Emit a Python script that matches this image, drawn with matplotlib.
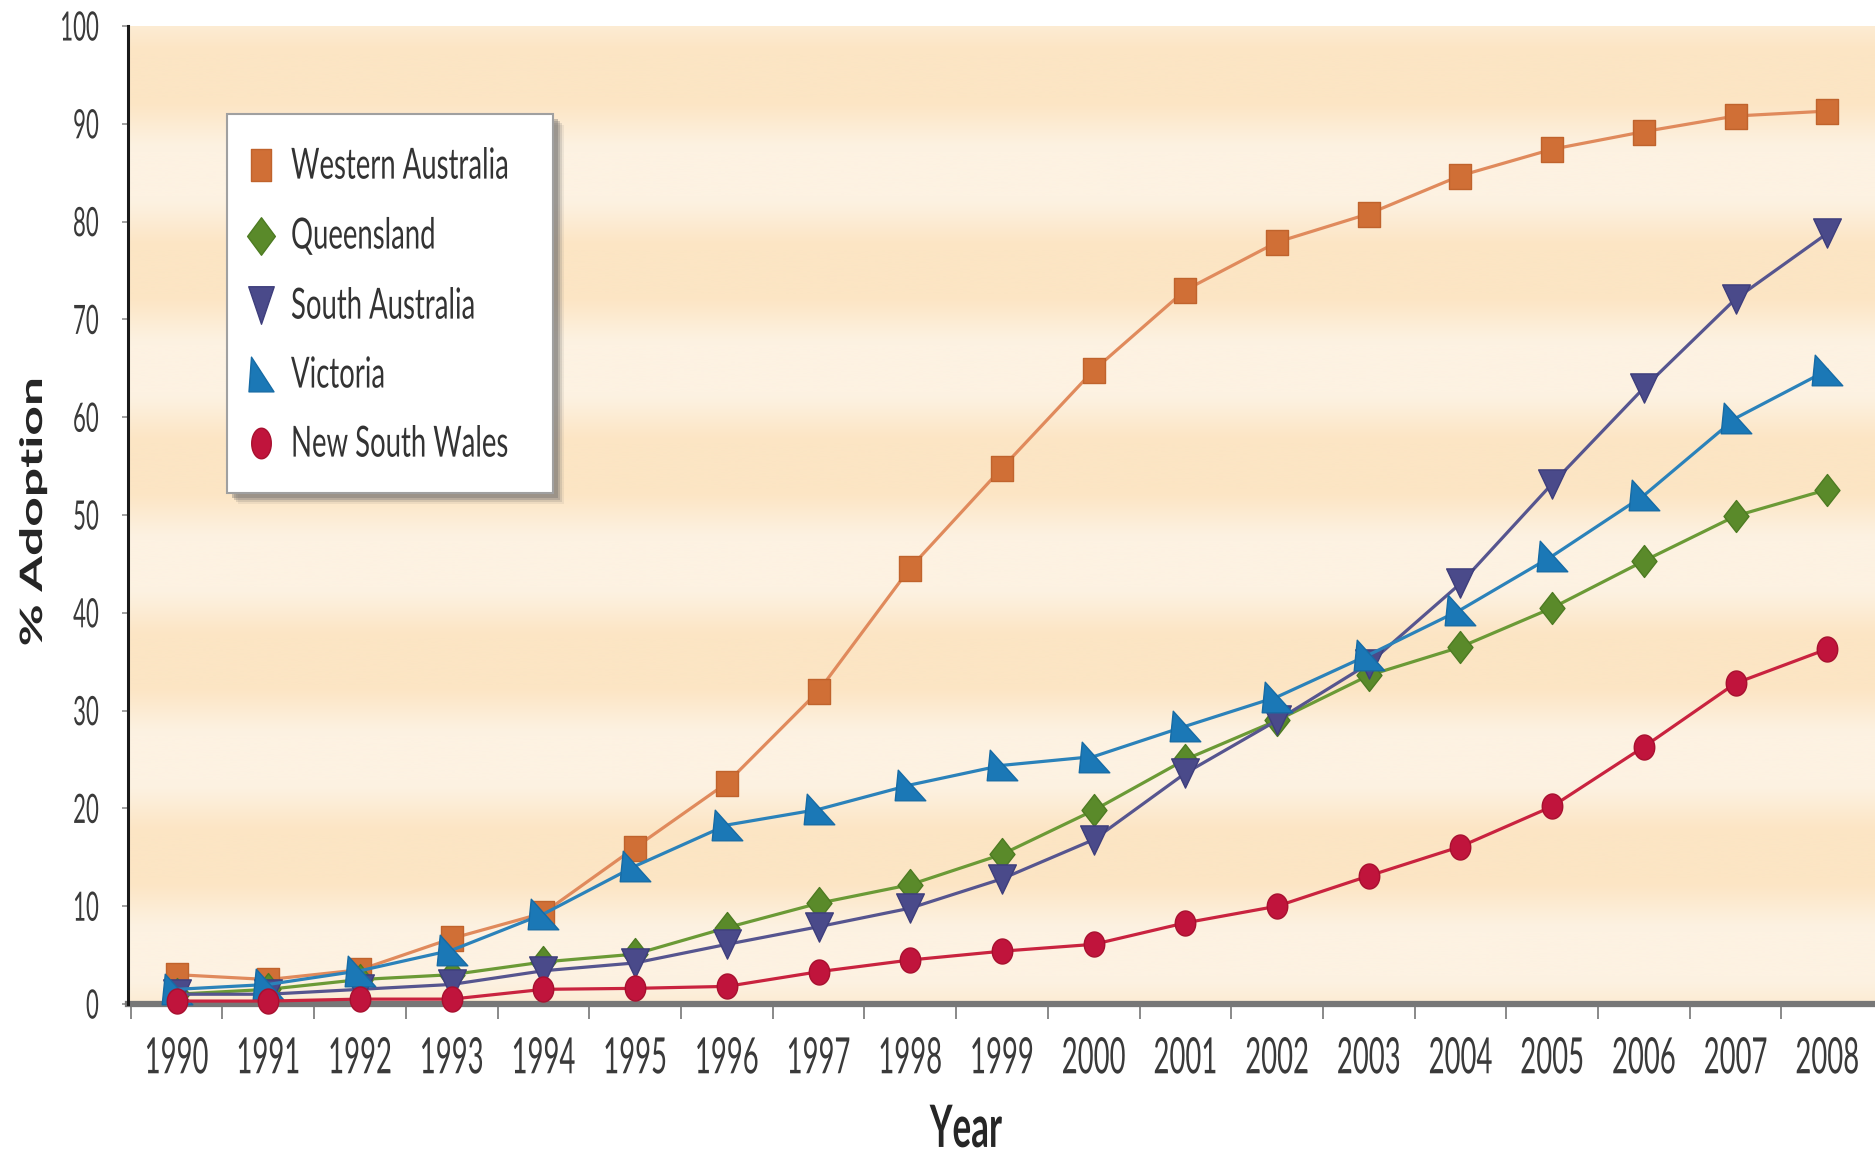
import numpy as np
import matplotlib
matplotlib.use("Agg")
import matplotlib.pyplot as plt
from matplotlib.colors import to_rgb
from matplotlib.ticker import FixedLocator, NullLocator
from matplotlib.patheffects import AbstractPathEffect
from matplotlib.transforms import Affine2D
from matplotlib.path import Path
from matplotlib.patches import Rectangle
from matplotlib.lines import Line2D

# ---- data -------------------------------------------------------------
years = list(range(1990, 2009))

western_australia = [3.0, 2.5, 3.5, 6.7, 9.3, 16.0, 22.6, 32.0, 44.6, 54.8,
                     64.8, 73.0, 77.9, 80.8, 84.7, 87.4, 89.2, 90.8, 91.3]
queensland = [1.0, 1.5, 2.5, 3.0, 4.3, 5.1, 7.8, 10.3, 12.2, 15.3,
              19.8, 25.0, 29.0, 33.6, 36.5, 40.5, 45.3, 49.9, 52.6]
south_australia = [1.0, 1.0, 1.5, 2.0, 3.4, 4.2, 6.1, 7.9, 9.8, 12.8,
                   16.8, 23.6, 29.0, 34.8, 43.0, 53.2, 63.0, 72.1, 78.8]
victoria = [1.5, 2.0, 3.4, 5.5, 9.2, 14.1, 18.3, 19.9, 22.4, 24.4,
            25.3, 28.4, 31.4, 35.7, 40.3, 45.8, 52.0, 59.9, 64.8]
new_south_wales = [0.3, 0.3, 0.5, 0.5, 1.5, 1.6, 1.8, 3.3, 4.5, 5.4,
                   6.1, 8.3, 10.0, 13.1, 16.1, 20.2, 26.3, 32.8, 36.3]

series_names = ["Western Australia", "Queensland", "South Australia",
                "Victoria", "New South Wales"]
y_ticks = list(range(0, 101, 10))

FONT = ["Lato", "DejaVu Sans"]
plt.rcParams["font.family"] = FONT


class Tall(AbstractPathEffect):
    """Stretch rendered glyphs vertically, giving tall condensed lettering."""

    def __init__(self, sy=1.8, anchor="center"):
        super().__init__()
        self.sy = sy
        self.anchor = anchor

    def draw_path(self, renderer, gc, tpath, affine, rgbFace=None):
        verts = tpath.vertices
        if len(verts):
            pts = affine.transform(verts)
            pts = pts[np.isfinite(pts).all(axis=1)]
            if len(pts):
                y0, y1 = pts[:, 1].min(), pts[:, 1].max()
                cy = {"bottom": y0, "top": y1}.get(self.anchor, (y0 + y1) / 2)
                affine = affine + Affine2D().translate(0, -cy).scale(1, self.sy).translate(0, cy)
        renderer.draw_path(gc, tpath, affine, rgbFace)


def shape(points, aspect):
    pts = np.array(points, dtype=float)
    pts[:, 0] *= aspect
    return Path(np.vstack([pts, pts[:1]]), closed=True)


def ellipse(aspect):
    t = np.linspace(0, 2 * np.pi, 60, endpoint=False)
    return shape(np.c_[np.cos(t), np.sin(t)], aspect)


SQUARE = [(-1, -1), (1, -1), (1, 1), (-1, 1)]
DIAMOND = [(0, -1), (1, 0), (0, 1), (-1, 0)]
DOWN = [(-1, 1), (1, 1), (0, -1)]
CORNER = [(-0.8, 1), (-1, -1), (1, -1)]

colors = dict(
    line=["#e08a5c", "#6b9a36", "#56558f", "#2b82ba", "#c9233f"],
    face=["#d06f36", "#5a8a2a", "#4a4a8a", "#1b78b6", "#c0143c"],
    edge=["#c0632c", "#4d7b22", "#3e3e7c", "#166ba5", "#a8102f"],
)
plot_markers = [(shape(SQUARE, 0.88), 18), (shape(DIAMOND, 0.78), 23),
                (shape(DOWN, 0.95), 21), (shape(CORNER, 1.0), 22),
                (ellipse(0.82), 18)]
key_markers = [(shape(SQUARE, 0.62), 23), (shape(DIAMOND, 0.74), 27),
               (shape(DOWN, 0.68), 27), (shape(CORNER, 0.72), 25),
               (ellipse(0.64), 22)]

W, H = 1875, 1151
fig = plt.figure(figsize=(W / 100, H / 100), dpi=100)
ax = fig.add_axes([128 / W, 1 - 1004 / H, 1 - 128 / W, (1004 - 26) / H])

x_lo, x_hi = 1989.47, 2008.52
ax.set_xlim(x_lo, x_hi)
ax.set_ylim(0, 100)

# soft horizontal bands behind the plot
band_dark = np.array(to_rgb("#fce5c4"))
band_light = np.array(to_rgb("#fdf2e2"))
yy = np.linspace(0, 100, 400)
phase = (np.cos((yy - 95.0) / 20.0 * 2 * np.pi) + 1) / 2
phase = np.clip((phase - 0.5) * 1.5 + 0.5, 0, 1)
band = band_light[None, :] * (1 - phase[:, None]) + band_dark[None, :] * phase[:, None]
band_img = np.repeat(band[:, None, :], 2, axis=1)
ax.imshow(band_img, extent=[x_lo, x_hi, 0, 100], origin="lower",
          aspect="auto", interpolation="bicubic", zorder=0)

all_series = [western_australia, queensland, south_australia, victoria,
              new_south_wales]
for i, vals in enumerate(all_series):
    mk, ms = plot_markers[i]
    ax.plot(years, vals, color=colors["line"][i], lw=2.3, marker=mk, ms=ms,
            mfc=colors["face"][i], mec=colors["edge"][i], mew=1.0,
            zorder=3 + i * 0.1, clip_on=False)

# axes frame
for side in ("top", "right"):
    ax.spines[side].set_visible(False)
ax.spines["left"].set_color("#1a1a1a")
ax.spines["left"].set_linewidth(2.2)
ax.spines["bottom"].set_color("#777777")
ax.spines["bottom"].set_linewidth(4.5)
ax.spines["bottom"].set_zorder(2)

# year labels centred on the points, tick marks between years
ax.xaxis.set_major_locator(FixedLocator(years))
ax.xaxis.set_minor_locator(FixedLocator([y - 0.5 for y in years]))
ax.set_xticklabels([str(y) for y in years])
ax.tick_params(axis="x", which="major", length=0, pad=23,
               labelsize=19.8, labelcolor="#3a3a3a")
ax.tick_params(axis="x", which="minor", length=11, width=1.3,
               color="#808080", direction="out")
ax.yaxis.set_major_locator(FixedLocator(y_ticks))
ax.yaxis.set_minor_locator(NullLocator())
ax.tick_params(axis="y", which="major", length=4, width=1.3,
               color="#999999", pad=17, labelsize=16, labelcolor="#3a3a3a")
for t in ax.get_xticklabels():
    t.set_path_effects([Tall(1.82, "top")])
for t in ax.get_yticklabels():
    t.set_path_effects([Tall(1.82, "center")])

# axis titles
fig.text(966 / W, 1 - 1104 / H, "Year", ha="center", va="top",
         fontsize=25.2, fontweight="bold", color="#262626",
         path_effects=[Tall(1.67, "top")])
fig.text(33 / W, 1 - 512 / H, "% Adoption", ha="center", va="center",
         rotation=90, fontsize=22.2, fontweight="bold", color="#262626",
         path_effects=[Tall(1.67, "center")])

# key box with drop shadow
bx0, by0, bx1, by1 = 227, 114, 553, 493
for off, alpha in [(11, 0.10), (9, 0.18), (7, 0.28), (5, 0.35)]:
    fig.add_artist(Rectangle((bx0 / W + off / W, 1 - by1 / H - off / H),
                             (bx1 - bx0) / W, (by1 - by0) / H,
                             transform=fig.transFigure, facecolor="#6a6a6a",
                             edgecolor="none", alpha=alpha, zorder=5))
fig.add_artist(Rectangle((bx0 / W, 1 - by1 / H), (bx1 - bx0) / W,
                         (by1 - by0) / H, transform=fig.transFigure,
                         facecolor="white", edgecolor="#a0a0a0", lw=1.5,
                         zorder=6))
row_y = [165, 236, 305, 374, 443]
for i, name in enumerate(series_names):
    mk, ms = key_markers[i]
    fig.add_artist(Line2D([261 / W], [1 - row_y[i] / H],
                          transform=fig.transFigure, linestyle="none",
                          marker=mk, ms=ms, mfc=colors["face"][i],
                          mec=colors["edge"][i], mew=1.0, zorder=7))
    fig.text(291 / W, 1 - row_y[i] / H, name, ha="left", va="center",
             fontsize=19.8, color="#333333", zorder=7,
             path_effects=[Tall(1.56, "center")])

fig.savefig("out.png", dpi=100, facecolor="white")
